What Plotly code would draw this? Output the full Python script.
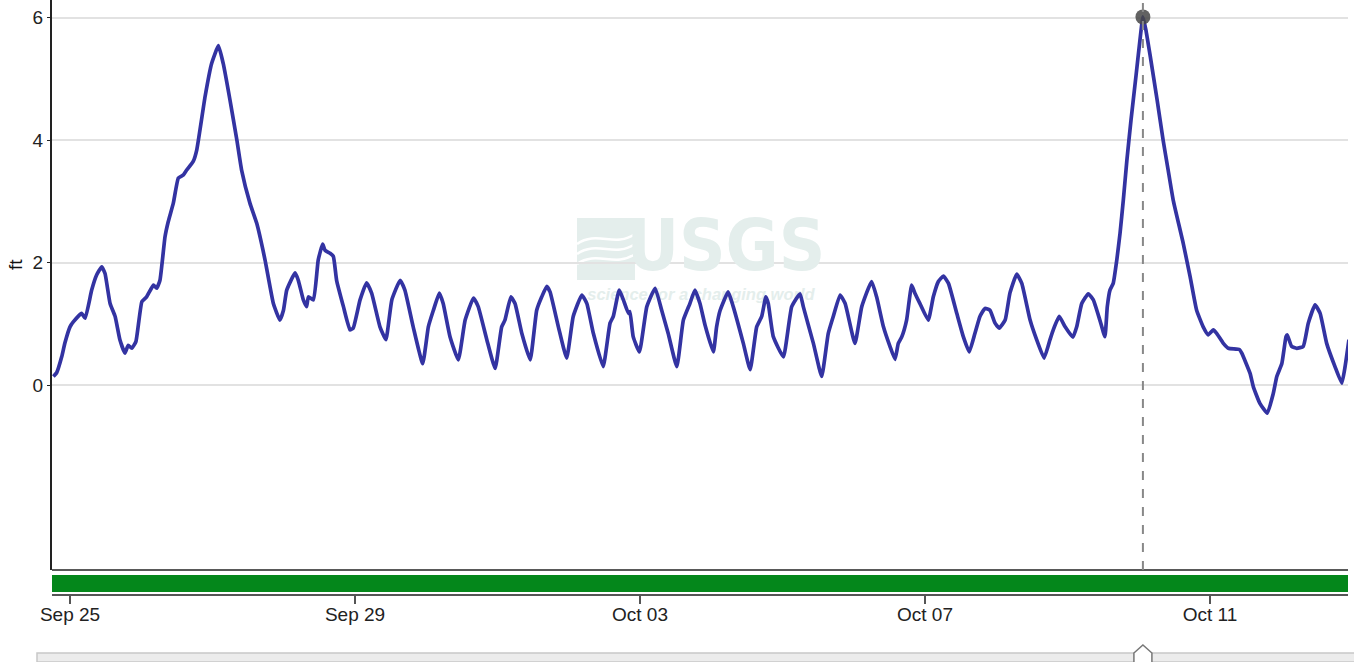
import pandas as pd
import plotly.graph_objects as go

# ---------------- data ----------------
start = pd.Timestamp("2023-09-25 00:00")
hours = [
    -5.6, -4.5, -2.8, -1.7, 0.0, 1.1, 3.9, 5.1, 7.3, 9.0, 10.7, 11.8, 13.5, 15.2, 16.8, 18.5, 19.6, 20.8, 22.2,
    24.2, 25.8, 28.1, 29.2, 30.3, 32.0, 33.1, 34.8, 36.5, 38.2, 39.3, 41.5, 42.7, 45.5, 47.7, 50.0, 51.6, 53.9,
    56.2, 57.8, 60.6, 62.9, 65.7, 68.5, 70.7, 71.9, 73.0, 75.8, 76.9, 78.6, 79.7, 80.3, 82.0, 83.6, 85.1, 85.9,
    87.6, 88.7, 89.8, 92.1, 94.3, 95.4, 97.7, 99.9, 101.6, 104.4, 106.4, 108.4, 111.2, 112.8, 115.6, 118.8,
    120.7, 122.4, 124.4, 125.7, 128.0, 130.8, 133.1, 135.9, 137.5, 140.4, 143.2, 145.4, 146.5, 148.5, 149.9,
    152.2, 155.0, 157.2, 158.9, 160.6, 161.7, 164.5, 167.3, 169.5, 172.4, 174.1, 176.3, 179.6, 181.9, 183.0,
    185.0, 186.4, 188.1, 188.6, 189.7, 191.8, 194.3, 197.1, 199.3, 201.5, 204.4, 206.6, 208.8, 210.5, 212.2,
    213.9, 216.7, 217.8, 219.0, 221.7, 223.4, 226.8, 229.1, 231.3, 233.0, 234.4, 235.2, 236.9, 240.3, 243.1,
    245.9, 247.0, 250.4, 253.2, 255.4, 257.1, 259.4, 261.1, 264.4, 266.7, 270.0, 271.7, 274.0, 276.2, 277.9,
    279.0, 280.2, 281.8, 283.5, 284.6, 286.3, 289.1, 290.8, 292.5, 294.2, 295.9, 298.7, 300.9, 302.9, 304.8,
    306.5, 308.2, 309.9, 311.6, 313.0, 315.0, 316.6, 318.9, 320.6, 323.4, 325.6, 328.1, 330.1, 331.2, 333.2,
    335.2, 337.8, 339.1, 340.8, 343.0, 344.7, 346.9, 348.6, 349.4, 350.3, 351.4, 352.6, 353.7, 354.8, 356.0,
    357.4, 359.1, 360.4, 361.4, 362.4, 363.8, 366.2, 368.2, 369.9, 371.6, 375.0, 377.3, 379.5, 381.7, 383.4,
    385.1, 386.3, 388.5, 390.2, 393.9, 394.7, 397.5, 398.6, 400.8, 403.3, 405.3, 406.5, 408.2, 409.6, 410.0,
    411.5, 413.2, 415.4, 417.1, 419.4, 421.1, 423.3, 426.1, 428.4, 429.5, 430.8,
]
gage_ft = [
    0.14, 0.20, 0.46, 0.69, 0.95, 1.03, 1.17, 1.09, 1.55, 1.80, 1.93, 1.82, 1.33, 1.12, 0.74, 0.52, 0.65, 0.60, 0.71,
    1.36, 1.44, 1.63, 1.58, 1.71, 2.42, 2.67, 2.97, 3.38, 3.43, 3.51, 3.65, 3.84, 4.71, 5.25, 5.54, 5.25, 4.65,
    4.00, 3.51, 2.97, 2.64, 2.04, 1.33, 1.06, 1.22, 1.55, 1.83, 1.71, 1.39, 1.28, 1.44, 1.39, 2.04, 2.30, 2.20,
    2.15, 2.10, 1.71, 1.28, 0.90, 0.93, 1.39, 1.67, 1.50, 0.95, 0.74, 1.39, 1.71, 1.55, 0.95, 0.35,
    0.95, 1.22, 1.50, 1.33, 0.79, 0.41, 1.06, 1.42, 1.28, 0.74, 0.27, 0.95, 1.06, 1.44, 1.33,
    0.84, 0.41, 1.22, 1.44, 1.61, 1.52, 0.95, 0.44, 1.12, 1.47, 1.33, 0.84, 0.30, 1.01, 1.12,
    1.55, 1.39, 1.17, 1.20, 0.79, 0.54, 1.28, 1.58, 1.22, 0.84, 0.30, 1.06, 1.33, 1.55, 1.33,
    0.98, 0.54, 0.95, 1.22, 1.52, 1.28, 0.68, 0.25, 0.95, 1.12, 1.44, 1.33, 0.79, 0.46, 1.28,
    1.49, 1.28, 0.68, 0.14, 0.84, 1.12, 1.47, 1.33, 0.68, 1.28, 1.69, 1.44, 0.95, 0.63, 0.42,
    0.68, 0.79, 1.06, 1.63, 1.50, 1.33, 1.06, 1.44, 1.69, 1.78, 1.66, 1.17, 0.79, 0.54, 0.84,
    1.12, 1.25, 1.22, 1.01, 0.93, 1.06, 1.50, 1.81, 1.66, 1.06, 0.74, 0.44, 0.74, 0.90, 1.12,
    0.95, 0.78, 0.95, 1.33, 1.49, 1.39, 1.06, 0.79, 1.28, 1.55, 1.66, 2.04, 2.48, 3.02, 3.67,
    4.33, 5.06, 5.63, 6.01, 5.80, 5.39, 4.65, 4.00, 3.51, 3.02, 2.31, 1.77, 1.22, 0.95, 0.82,
    0.90, 0.84, 0.68, 0.60, 0.58, 0.52, 0.19, -0.03, -0.30, -0.46, -0.14, 0.14, 0.35, 0.79, 0.82,
    0.63, 0.60, 0.63, 1.01, 1.31, 1.17, 0.68, 0.30, 0.03, 0.30, 0.74,
]
tick_dates = ["2023-09-25", "2023-09-29", "2023-10-03", "2023-10-07", "2023-10-11"]
tick_labels = ["Sep 25", "Sep 29", "Oct 03", "Oct 07", "Oct 11"]
y_ticks = [0, 2, 4, 6]
y_label = "ft"
x_range = [pd.Timestamp("2023-09-24 17:56"), pd.Timestamp("2023-10-12 22:29")]
y_range = [-3.02, 6.286]

# ---------------- styling ----------------
FONT = "Liberation Sans, Arial, sans-serif"
LINE_COLOR = "#3333a2"
WM_COLOR = "#e4eeec"
PLOT_BOTTOM = 0.042   # paper y of the plot-area bottom (the x-axis sits lower)

times = start + pd.to_timedelta(hours, unit="h")
peak_i = max(range(len(gage_ft)), key=lambda i: gage_ft[i])
peak_t, peak_v = times[peak_i], gage_ft[peak_i]


def frac_x(f):
    return x_range[0] + (x_range[1] - x_range[0]) * f


def frac_y(f):
    return y_range[0] + (y_range[1] - y_range[0]) * f


fig = go.Figure()

# watermark (drawn first so the line is on top of it)
fig.add_trace(go.Scatter(
    x=[frac_x(0.520), frac_x(0.5007)], y=[frac_y(0.558), frac_y(0.481)],
    mode="text", text=["USGS", "science for a changing world"],
    textfont=dict(family=["Liberation Sans Narrow, DejaVu Sans Condensed, Arial Narrow, sans-serif", FONT],
                  size=[72, 16.5], color=WM_COLOR, weight="bold", style=["normal", "italic"]),
    hoverinfo="skip", showlegend=False,
))

fig.add_trace(go.Scatter(
    x=times, y=gage_ft, mode="lines",
    line=dict(color=LINE_COLOR, width=3.7, shape="spline", smoothing=0.4),
    showlegend=False, hoverinfo="x+y",
))

fig.add_trace(go.Scatter(
    x=[peak_t], y=[peak_v], mode="markers",
    marker=dict(size=15, color="rgba(70,70,70,0.85)"),
    showlegend=False, hoverinfo="skip",
))


def px(xp, yp):
    # convert page pixels to paper coords (decoration only)
    return (xp - 52) / 1296, 1 - yp / 595


shapes = []
# USGS logo block with waves
x0, y0 = px(577, 218)
x1, y1 = px(635, 280)
shapes.append(dict(type="rect", xref="paper", yref="paper", x0=x0, x1=x1, y0=y1, y1=y0,
                   fillcolor=WM_COLOR, line=dict(width=0), layer="below"))
for off in (238, 248, 258):
    a = px(577, off + 6)
    b = px(597, off - 8)
    c = px(615, off + 10)
    d = px(635, off - 4)
    shapes.append(dict(type="path", xref="paper", yref="paper",
                       path=f"M {a[0]},{a[1]} C {b[0]},{b[1]} {c[0]},{c[1]} {d[0]},{d[1]}",
                       line=dict(color="white", width=2.5), layer="below"))

# plot bottom border
shapes.append(dict(type="line", xref="paper", yref="paper", x0=0, x1=1, y0=PLOT_BOTTOM, y1=PLOT_BOTTOM,
                   line=dict(color="#222", width=1.5)))
# green status bar
shapes.append(dict(type="rect", xref="paper", yref="paper", x0=0, x1=1, y0=0.005, y1=0.0336,
                   fillcolor="#04871b", line=dict(width=0)))
# dashed peak marker line
shapes.append(dict(type="line", xref="x", yref="paper", x0=peak_t, x1=peak_t, y0=PLOT_BOTTOM, y1=1,
                   line=dict(color="#888", width=2, dash="dash")))
# slider track
tx0, ty0 = px(37, 653)
tx1, ty1 = px(1362, 662)
shapes.append(dict(type="rect", xref="paper", yref="paper", x0=tx0, x1=tx1, y0=ty1, y1=ty0,
                   fillcolor="#ececec", line=dict(color="#c8c8c8", width=1.5)))
# slider handle at the peak time
shapes.append(dict(type="path", xref="x", yref="paper", xsizemode="pixel", ysizemode="pixel",
                   xanchor=peak_t, yanchor=ty1,
                   path="M -9,-2 L -9,9 L 0,17 L 9,9 L 9,-2 Z",
                   fillcolor="white", line=dict(color="#777", width=1.5)))

lx, ly = px(15, 265)
fig.add_annotation(text=y_label, xref="paper", yref="paper", x=lx, y=ly, textangle=-90,
                   showarrow=False, xanchor="center", yanchor="middle",
                   font=dict(family=FONT, size=19, color="#111"))

fig.update_layout(
    width=1354, height=662, autosize=False,
    margin=dict(l=52, r=6, t=0, b=67, autoexpand=False),
    paper_bgcolor="white", plot_bgcolor="white",
    font=dict(family=FONT, size=19, color="#222"),
    shapes=shapes,
    showlegend=False,
    xaxis=dict(
        type="date", range=x_range, anchor="free", position=0, automargin=False,
        tickvals=tick_dates, ticktext=tick_labels,
        showgrid=False, zeroline=False,
        showline=True, linecolor="#555", linewidth=2,
        ticks="outside", ticklen=8, tickcolor="#555", tickwidth=2,
        ticklabelstandoff=-6,
        tickfont=dict(size=19, color="#222"),
    ),
    yaxis=dict(
        domain=[PLOT_BOTTOM, 1], range=y_range, automargin=False,
        tickvals=y_ticks, ticktext=[str(v) for v in y_ticks],
        showgrid=True, gridcolor="#e2e2e2", gridwidth=2,
        zeroline=False,
        showline=True, linecolor="#222", linewidth=2,
        ticks="outside", ticklen=3, tickcolor="#222",
        tickfont=dict(size=19, color="#222"),
    ),
)

fig.write_html("out.html", config={"displayModeBar": False},
               post_script="document.body.style.margin='0';")
